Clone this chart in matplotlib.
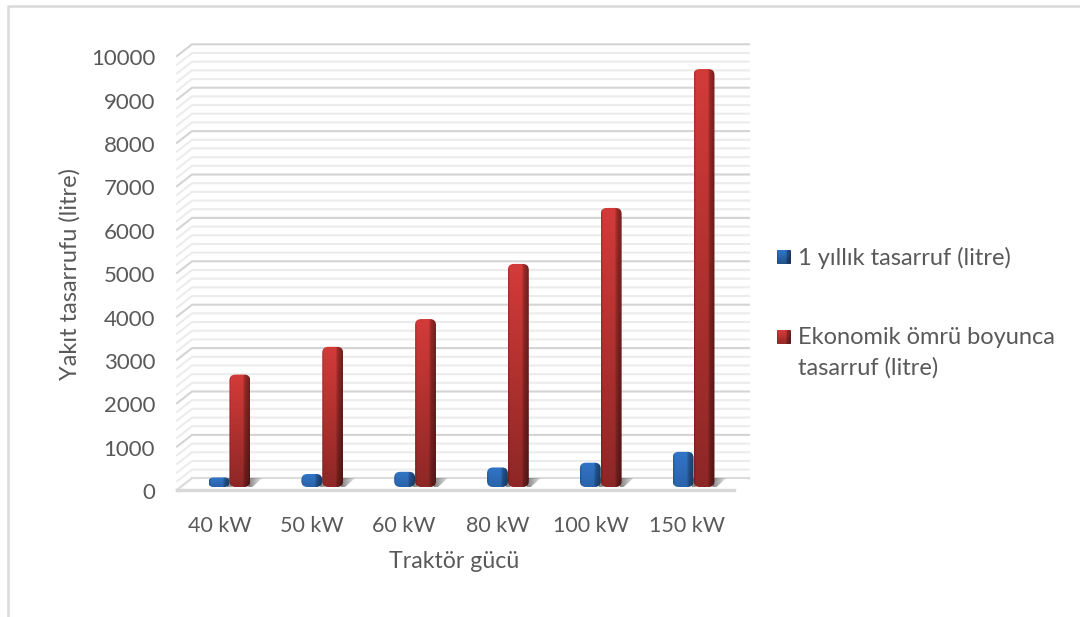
import numpy as np
import matplotlib
matplotlib.use('Agg')
import matplotlib.pyplot as plt
from matplotlib.lines import Line2D
from matplotlib.patches import FancyBboxPatch, Polygon
from matplotlib.transforms import Affine2D, IdentityTransform

plt.rcParams['font.family'] = ['Lato', 'DejaVu Sans']

categories = ['40 kW', '50 kW', '60 kW', '80 kW', '100 kW', '150 kW']
yearly = [220, 300, 350, 450, 560, 810]
lifetime = [2590, 3230, 3870, 5140, 6430, 9630]
series_names = ['1 yıllık tasarruf (litre)', 'Ekonomik ömrü boyunca\ntasarruf (litre)']
y_major = list(range(0, 10001, 1000))
y_minor = [v for v in range(0, 10001, 200) if v % 1000]

W, H = 1080, 617
TEXT = '#595959'
BLUE = np.array([0x2f, 0x6f, 0xbd]) / 255
RED = np.array([0xc9, 0x38, 0x36]) / 255
DX, DY = 15, 11.7  # depth of the fake 3d box, px
BAR_W = 0.225

fig = plt.figure(figsize=(W / 100, H / 100), dpi=100, facecolor='white')
ax = fig.add_axes([177 / W, (H - 490) / H, (734 - 177) / W, (490 - 56) / H])
ax.set_xlim(-0.5, 5.5)
ax.set_ylim(0, 10000)
ax.patch.set_alpha(0)
for s in ax.spines.values():
    s.set_visible(False)


def to_px(x, y):
    return ax.transData.transform((x, y))


def px_line(xs, ys, color, lw, zorder):
    ax.add_line(Line2D(xs, ys, color=color, lw=lw, transform=IdentityTransform(),
                       zorder=zorder, clip_on=False))


def put_image(img, x0, y0, w, h, clip, zorder):
    im = ax.imshow(img, extent=(x0, x0 + w, y0, y0 + h), origin='upper', aspect='auto',
                   interpolation='nearest', zorder=zorder)
    im.set_transform(IdentityTransform())
    im.set_clip_box(fig.bbox)
    im.set_clip_path(clip)


def shaded(x0, y0, w, h, color, r, zorder, vfade=0.72):
    # gradient block clipped to a rounded box, everything in pixels
    r = min(r, h / 2, w / 2)
    box = FancyBboxPatch((x0 + r, y0 + r), w - 2 * r, h - 2 * r,
                         boxstyle=f'round,pad={r},rounding_size={r}',
                         transform=IdentityTransform(), facecolor='none', edgecolor='none')
    across = np.interp(np.linspace(0, 1, int(w) + 1), [0, 0.1, 0.65, 0.78, 1], [0.85, 1, 1, 0.72, 0.55])
    down = np.linspace(1.05, vfade, int(h) + 1)
    img = np.clip(np.outer(down, across)[..., None] * color, 0, 1)
    put_image((img * 255).astype(np.uint8), x0, y0, w, h, box, zorder)


def shadow(x0, y0, zorder):
    # grey wedge on the floor, right of a bar
    poly = Polygon([(x0 - 2, y0), (x0 - 2, y0 + 9), (x0 + 12, y0 + 9), (x0 + 2, y0)],
                   transform=IdentityTransform())
    img = np.zeros((4, 16, 4))
    img[..., :3] = 0.35
    img[..., 3] = np.linspace(0.75, 0.05, 16)
    put_image((img * 255).astype(np.uint8), x0 - 2, y0, 16, 9, poly, zorder)


# back wall, side wall and floor
x_l, x_r = ax.get_xlim()
for v, col, z in [(v, '#ececec', 1) for v in y_minor] + [(v, '#d4d4d4', 1.1) for v in y_major]:
    xa, ya = to_px(x_l, v)
    xb, _ = to_px(x_r, v)
    px_line([xa, xa + DX, xb + DX], [ya, ya + DY, ya + DY], col, 1.5, z)
xa, ya = to_px(x_l, 0)
xb, _ = to_px(x_r, 0)
ax.add_patch(Polygon([(xa, ya), (xa + DX, ya + DY), (xb + DX, ya + DY), (xb, ya)],
                     transform=IdentityTransform(), facecolor='white', edgecolor='none',
                     zorder=1.5, clip_on=False))
px_line([xa + DX, xb + DX], [ya + DY, ya + DY], '#dcdcdc', 1.5, 1.6)
px_line([xa, xa + DX], [ya, ya + DY], '#dcdcdc', 1.5, 1.6)
px_line([xa, xb], [ya, ya], '#d9d9d9', 2.5, 1.6)

# bars sit a little inside the floor
shift = ax.transData + Affine2D().translate(6, 3)
x = np.arange(len(categories))
bars_a = ax.bar(x - BAR_W / 2, yearly, BAR_W, color='none', transform=shift)
bars_b = ax.bar(x + BAR_W / 2, lifetime, BAR_W, color='none', transform=shift)

for bars, color, z, fade in [(bars_a, BLUE, 3, 0.9), (bars_b, RED, 5, 0.7)]:
    for rect in bars:
        x0, y0 = shift.transform((rect.get_x(), 0))
        x1, y1 = shift.transform((rect.get_x() + rect.get_width(), rect.get_height()))
        shadow(x1, y0, z - 1)
        shaded(x0, y0, x1 - x0, y1 - y0, color, 6, z, fade)

ax.set_xlim(x_l, x_r)
ax.set_ylim(0, 10000)

ax.set_yticks(y_major)
ax.tick_params(axis='both', length=0, labelcolor=TEXT, labelsize=16)
ax.tick_params(axis='y', pad=15)
ax.tick_params(axis='x', pad=19, labelsize=15.5)
ax.set_xticks(x, categories)
for lab, off in zip(ax.get_xticklabels(), [-4, -4, -5, -4, -4, -1]):
    lab.set_transform(lab.get_transform() + Affine2D().translate(off, 0))
for lab in ax.get_yticklabels():
    lab.set_transform(lab.get_transform() + Affine2D().translate(-1, -1.2))
ax.set_ylabel('Yakıt tasarrufu (litre)', fontsize=17, color=TEXT)
ax.yaxis.set_label_coords((81 - 177) / (734 - 177), 0.498)
ax.set_xlabel('Traktör gücü', fontsize=16.7, color=TEXT)
ax.xaxis.set_label_coords((454 - 177) / (734 - 177), (490 - 551) / (490 - 56))

# legend drawn by hand, the marker stays on the first line of the wrapped label
for name, color, mid in zip(series_names, [BLUE, RED], [257, 337]):
    shaded(777, H - mid - 7, 14, 14, color, 1, 6, 0.75)
    fig.text(798 / W, (H - mid + 10) / H, name, fontsize=17, color=TEXT,
             ha='left', va='top', linespacing=1.5)

# frame of the screenshot
fig.add_artist(Line2D([8 / W, 8 / W, 1], [0, (H - 6) / H, (H - 6) / H], color='#d9d9d9', lw=1.8))

fig.savefig('out.png', dpi=100, facecolor='white')
plt.close(fig)
